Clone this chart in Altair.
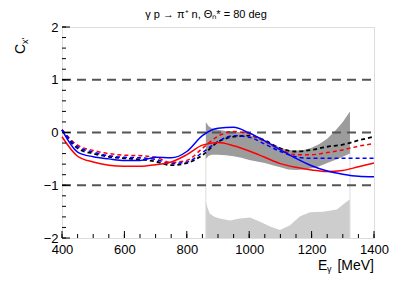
import altair as alt
import pandas as pd

FONT = "Liberation Sans"
W, H = 312, 211

# Theory curves (E in MeV)
E = [400, 450, 500, 550, 600, 650, 700, 750, 800, 850, 900, 950, 1000,
     1050, 1100, 1150, 1200, 1250, 1300, 1350, 1400]
blue_solid = [0.05, -0.37, -0.46, -0.50, -0.53, -0.53, -0.47, -0.48, -0.36, -0.06, 0.08, 0.10, -0.01,
              -0.16, -0.33, -0.49, -0.63, -0.73, -0.79, -0.83, -0.84]
red_solid = [-0.08, -0.45, -0.56, -0.62, -0.64, -0.64, -0.61, -0.56, -0.42, -0.24, -0.19, -0.25, -0.35,
             -0.47, -0.59, -0.66, -0.71, -0.74, -0.72, -0.65, -0.58]
red_dash = [0.05, -0.24, -0.34, -0.40, -0.43, -0.44, -0.47, -0.57, -0.53, -0.30, -0.07, 0.02, -0.03,
            -0.17, -0.32, -0.42, -0.42, -0.38, -0.33, -0.26, -0.21]
blue_dash = [0.05, -0.27, -0.37, -0.44, -0.47, -0.48, -0.51, -0.59, -0.56, -0.38, -0.17, -0.06, -0.09,
             -0.22, -0.36, -0.46, -0.49, -0.49, -0.49, -0.49, -0.49]
black_dash = [0.05, -0.30, -0.40, -0.46, -0.49, -0.51, -0.55, -0.62, -0.58, -0.43, -0.18, -0.08, -0.06,
              -0.15, -0.30, -0.36, -0.33, -0.27, -0.23, -0.15, -0.08]

# Data band (grey)
band_E = [861, 870, 880, 900, 925, 950, 975, 1000, 1025, 1050, 1075, 1100, 1125,
          1150, 1175, 1200, 1225, 1250, 1275, 1300, 1323]
band_hi = [0.20, 0.12, 0.08, 0.05, 0.03, 0.02, 0.00, -0.05, -0.09, -0.15, -0.22, -0.29, -0.33,
           -0.34, -0.33, -0.29, -0.22, -0.12, 0.03, 0.20, 0.40]
band_lo = [-0.50, -0.44, -0.42, -0.42, -0.43, -0.45, -0.48, -0.52, -0.55, -0.58, -0.62, -0.66, -0.70,
           -0.71, -0.70, -0.68, -0.64, -0.58, -0.52, -0.46, -0.40]

# Systematic error (hatched)
sys_E = [861, 866, 874, 890, 906, 938, 970, 1003, 1035, 1067, 1099, 1131, 1163,
         1195, 1237, 1281, 1313, 1323]
sys_top = [-1.29, -1.42, -1.54, -1.60, -1.63, -1.67, -1.63, -1.61, -1.69, -1.78, -1.85, -1.76, -1.59,
           -1.51, -1.50, -1.46, -1.31, -1.27]

ref_levels = [-1, 0, 1]
x_major = [400, 600, 800, 1000, 1200, 1400]
x_minor = list(range(400, 1401, 50))
y_major = [-2, -1, 0, 1, 2]
y_minor = [round(-2 + 0.2 * i, 1) for i in range(21)]

title_text = "γ p → π⁺ n, Θₙ* = 80 deg"

xs = alt.Scale(domain=[400, 1400], nice=False, zero=False, padding=0)
ys = alt.Scale(domain=[-2, 2], nice=False, zero=False, padding=0)
xax = alt.Axis(values=x_major, format="d", tickSize=0, domain=False, grid=False, title=None,
               labelFont=FONT, labelFontSize=13, labelPadding=5, labelColor="black",
               labelFlush=False, labelOverlap=False)
yax = alt.Axis(values=y_major, format="d", tickSize=0, domain=False, grid=False, title=None,
               labelFont=FONT, labelFontSize=13, labelPadding=4, labelColor="black",
               labelFlush=False, labelOverlap=False)


def X(f):
    return alt.X(f, scale=xs, axis=xax)


def Y(f):
    return alt.Y(f, scale=ys, axis=yax)


sys_df = pd.DataFrame({"E": sys_E, "top": sys_top, "bot": [-2] * len(sys_E)})
sys_layer = alt.Chart(sys_df).mark_area(color="#cdcdcd", interpolate="linear").encode(
    x=X("E:Q"), y=Y("top:Q"), y2="bot:Q")

edge_df = pd.DataFrame({"E": [band_E[0], band_E[-1]], "a": [-2, -2], "b": [-0.3, -0.3]})
edge_layer = alt.Chart(edge_df).mark_rule(color="#dddddd", strokeWidth=1).encode(
    x=X("E:Q"), y=Y("a:Q"), y2="b:Q")

band_df = pd.DataFrame({"E": band_E, "hi": band_hi, "lo": band_lo})
band_layer = alt.Chart(band_df).mark_area(color="#9c9c9c", interpolate="linear").encode(
    x=X("E:Q"), y=Y("hi:Q"), y2="lo:Q")

ref_df = pd.DataFrame({"v": ref_levels})
ref_layer = alt.Chart(ref_df).mark_rule(color="#555555", strokeWidth=1.8, strokeDash=[9, 6]).encode(
    y=Y("v:Q"), x=alt.value(0), x2=alt.value(W))


def curve(vals, color, dash=None, width=1.5):
    df = pd.DataFrame({"E": E, "v": vals})
    kw = dict(color=color, strokeWidth=width, interpolate="monotone")
    if dash:
        kw["strokeDash"] = dash
    return alt.Chart(df).mark_line(**kw).encode(x=X("E:Q"), y=Y("v:Q"))


curves = [
    curve(black_dash, "black", [4, 3], 1.8),
    curve(red_dash, "#ff0000", [4, 3], 1.5),
    curve(blue_dash, "#0000ff", [4, 3], 1.5),
    curve(red_solid, "#ff0000"),
    curve(blue_solid, "#0000ff"),
]

# inward ticks
xmaj_df = pd.DataFrame({"E": x_major})
xmin_df = pd.DataFrame({"E": x_minor})
ymaj_df = pd.DataFrame({"v": y_major})
ymin_df = pd.DataFrame({"v": y_minor})
ticks = [
    alt.Chart(xmaj_df).mark_rule(color="black").encode(x=X("E:Q"), y=alt.value(H), y2=alt.value(H - 7)),
    alt.Chart(xmin_df).mark_rule(color="black").encode(x=X("E:Q"), y=alt.value(H), y2=alt.value(H - 4)),
    alt.Chart(ymaj_df).mark_rule(color="black").encode(y=Y("v:Q"), x=alt.value(0), x2=alt.value(8)),
    alt.Chart(ymin_df).mark_rule(color="black").encode(y=Y("v:Q"), x=alt.value(0), x2=alt.value(4)),
]


# titles
def txt(s, x, y, size, align="left", angle=None, baseline="alphabetic"):
    kw = dict(font=FONT, fontSize=size, align=align, baseline=baseline, color="black")
    if angle is not None:
        kw["angle"] = angle
    return alt.Chart(pd.DataFrame({"t": [s]})).mark_text(**kw).encode(
        text="t:N", x=alt.value(x), y=alt.value(y))


texts = [
    txt(title_text, 144, -9, 11, align="center"),
    txt("E", 256, H + 32, 14),
    txt("γ", 265, H + 34, 9),
    txt("[MeV]", W, H + 32, 14, align="right"),
    txt("C", -37, 27, 14, angle=270),
    txt("x'", -34, 17, 9, angle=270),
]

chart = alt.layer(sys_layer, edge_layer, band_layer, ref_layer, *curves, *ticks, *texts).properties(
    width=W, height=H,
    autosize=alt.AutoSizeParams(type="none"),
    padding={"left": 54, "top": 19, "right": 30, "bottom": 36},
).configure_view(stroke="black", strokeWidth=1).configure(background="white")

chart.save("out.html", embed_options={"renderer": "svg", "actions": False})
